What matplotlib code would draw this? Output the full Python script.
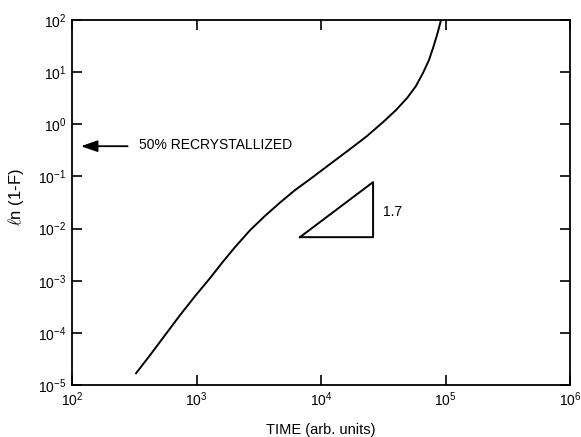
import matplotlib
matplotlib.use("Agg")
import matplotlib.pyplot as plt

plt.rcParams['font.family'] = ['Liberation Sans', 'DejaVu Sans']
plt.rcParams['mathtext.fontset'] = 'custom'
plt.rcParams['mathtext.rm'] = 'Liberation Sans'
plt.rcParams['mathtext.it'] = 'Liberation Sans:italic'
plt.rcParams['axes.unicode_minus'] = False

# Curve
time = [327, 423, 558, 737, 972, 1284, 1603, 2037, 2692, 3548, 4688, 6180, 8166,
        11800, 17100, 23400, 31500, 40000, 49100, 57900, 65900, 73700, 79400,
        85500, 90300, 92000]
ln1f = [1.68e-5, 3.72e-5, 9.0e-5, 2.18e-4, 5.04e-4, 1.12e-3, 2.20e-3, 4.40e-3,
        9.30e-3, 1.75e-2, 3.15e-2, 5.46e-2, 8.87e-2, 0.172, 0.334, 0.594, 1.10,
        1.87, 3.18, 5.41, 9.61, 17.1, 29.0, 51.5, 83.8, 100]

# Slope triangle
tri_x = [6775, 26200, 26200, 6775]
tri_y = [0.00684, 0.00684, 0.0778, 0.00684]
slope_label = "1.7"

arrow_label = "50% RECRYSTALLIZED"
arrow_y = 0.38

xlim = (1e2, 1e6)
ylim = (1e-5, 1e2)

fig = plt.figure(figsize=(5.81, 4.37), dpi=100)
ax = fig.add_axes([72/581, 1-385/437, (570-72)/581, (385-20)/437])

ax.plot(time, ln1f, color='black', lw=1.4, solid_joinstyle='round')
ax.plot(tri_x, tri_y, color='black', lw=1.4)
ax.text(31500, 0.0207, slope_label, fontsize=10, ha='left', va='center')

ax.annotate('', xy=(118, arrow_y), xytext=(280, arrow_y),
            arrowprops=dict(arrowstyle='-|>,head_length=1.0,head_width=0.35',
                            color='black', lw=1.3, shrinkA=0, shrinkB=0))
ax.text(345, 0.40, arrow_label, fontsize=10, ha='left', va='center')

ax.set_xscale('log')
ax.set_yscale('log')
ax.set_xlim(*xlim)
ax.set_ylim(*ylim)
ax.minorticks_off()
ax.tick_params(which='major', direction='in', length=7, width=1.2,
               top=True, right=True, labelsize=10, pad=4)
for s in ax.spines.values():
    s.set_linewidth(1.3)

ax.set_xlabel('TIME (arb. units)', fontsize=10.5, labelpad=10)
ax.set_ylabel(r'$\ell$n (1-F)', fontsize=12, math_fontfamily='cm')
ax.yaxis.set_label_coords(-0.092, 0.515)

fig.savefig('out.png', dpi=100)
